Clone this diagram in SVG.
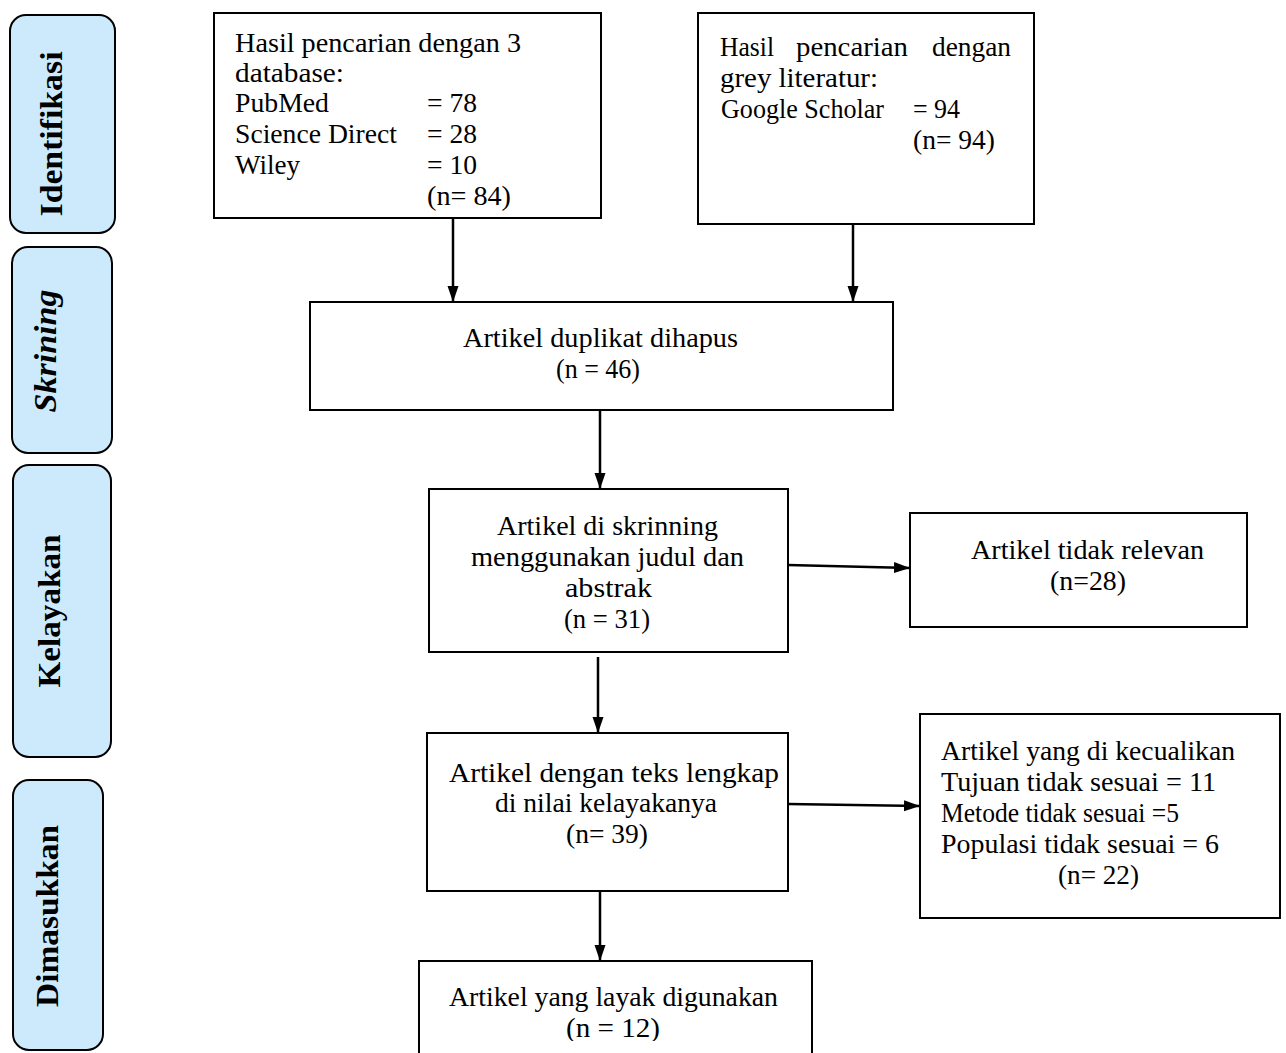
<svg xmlns="http://www.w3.org/2000/svg" width="1286" height="1053" viewBox="0 0 1286 1053">
<style>
.bg{fill:#ffffff}
.side{fill:#cdeafd;stroke:#000;stroke-width:2}
.box{fill:#fff;stroke:#000;stroke-width:2}
.t{font-family:"Liberation Serif","DejaVu Serif",serif;font-size:27px;fill:#000}
.s{font-family:"Liberation Serif","DejaVu Serif",serif;font-size:32px;font-weight:bold;fill:#000;text-anchor:middle}
.conn{stroke:#000;stroke-width:2.5;fill:none;marker-end:url(#ah)}
</style>
<defs>
<marker id="ah" viewBox="0 0 16 12" refX="16" refY="6" markerWidth="16" markerHeight="12" orient="auto" markerUnits="userSpaceOnUse">
<path d="M0,0.5 L16,6 L0,11.5 Z" fill="#000"/>
</marker>
<clipPath id="clipb"><rect x="0" y="0" width="1286" height="1041"/></clipPath>
</defs>
<rect class="bg" x="0" y="0" width="1286" height="1053"/>

<g id="stage-identifikasi">
<rect class="side" x="10" y="15" width="105" height="218" rx="16"/>
<text class="s" transform="translate(62,134) rotate(-90)" textLength="165" lengthAdjust="spacingAndGlyphs">Identifikasi</text>
</g>
<g id="stage-skrining">
<rect class="side" x="12" y="247" width="100" height="206" rx="16"/>
<text class="s" font-style="italic" transform="translate(56,351) rotate(-90)" textLength="123" lengthAdjust="spacingAndGlyphs">Skrining</text>
</g>
<g id="stage-kelayakan">
<rect class="side" x="13" y="465" width="98" height="292" rx="16"/>
<text class="s" transform="translate(60,611) rotate(-90)" textLength="153" lengthAdjust="spacingAndGlyphs">Kelayakan</text>
</g>
<g id="stage-dimasukkan">
<rect class="side" x="13" y="780" width="90" height="270" rx="16"/>
<text class="s" transform="translate(58,916) rotate(-90)" textLength="182" lengthAdjust="spacingAndGlyphs">Dimasukkan</text>
</g>

<g id="connectors">
<line class="conn" x1="453" y1="218" x2="453" y2="302"/>
<line class="conn" x1="853" y1="224" x2="853" y2="302"/>
<line class="conn" x1="600" y1="410" x2="600" y2="489"/>
<line class="conn" x1="788" y1="565" x2="910" y2="568"/>
<line class="conn" x1="598" y1="657" x2="598" y2="733"/>
<line class="conn" x1="788" y1="804" x2="920" y2="806"/>
<line class="conn" x1="600" y1="891" x2="600" y2="961"/>
</g>

<g id="box-database">
<rect class="box" x="214" y="13" width="387" height="205"/>
<text class="t" x="235" y="52" textLength="286" lengthAdjust="spacingAndGlyphs">Hasil pencarian dengan 3</text>
<text class="t" x="235" y="82" textLength="109" lengthAdjust="spacingAndGlyphs">database:</text>
<text class="t" x="235" y="112" textLength="94" lengthAdjust="spacingAndGlyphs">PubMed</text>
<text class="t" x="427" y="112" textLength="50" lengthAdjust="spacingAndGlyphs">= 78</text>
<text class="t" x="235" y="143" textLength="162" lengthAdjust="spacingAndGlyphs">Science Direct</text>
<text class="t" x="427" y="143" textLength="50" lengthAdjust="spacingAndGlyphs">= 28</text>
<text class="t" x="235" y="174" textLength="65" lengthAdjust="spacingAndGlyphs">Wiley</text>
<text class="t" x="427" y="174" textLength="50" lengthAdjust="spacingAndGlyphs">= 10</text>
<text class="t" x="427" y="205" textLength="84" lengthAdjust="spacingAndGlyphs">(n= 84)</text>
</g>

<g id="box-grey">
<rect class="box" x="698" y="13" width="336" height="211"/>
<text class="t" x="720" y="56" textLength="54" lengthAdjust="spacingAndGlyphs">Hasil</text>
<text class="t" x="796" y="56" textLength="112" lengthAdjust="spacingAndGlyphs">pencarian</text>
<text class="t" x="932" y="56" textLength="79" lengthAdjust="spacingAndGlyphs">dengan</text>
<text class="t" x="720" y="87" textLength="158" lengthAdjust="spacingAndGlyphs">grey literatur:</text>
<text class="t" x="721" y="118" textLength="163" lengthAdjust="spacingAndGlyphs">Google Scholar</text>
<text class="t" x="913" y="118" textLength="47" lengthAdjust="spacingAndGlyphs">= 94</text>
<text class="t" x="913" y="149" textLength="82" lengthAdjust="spacingAndGlyphs">(n= 94)</text>
</g>

<g id="box-duplikat">
<rect class="box" x="310" y="302" width="583" height="108"/>
<text class="t" x="463" y="347" textLength="275" lengthAdjust="spacingAndGlyphs">Artikel duplikat dihapus</text>
<text class="t" x="556" y="378" textLength="84" lengthAdjust="spacingAndGlyphs">(n = 46)</text>
</g>

<g id="box-skrinning">
<rect class="box" x="429" y="489" width="359" height="163"/>
<text class="t" x="497" y="535" textLength="221" lengthAdjust="spacingAndGlyphs">Artikel di skrinning</text>
<text class="t" x="471" y="566" textLength="273" lengthAdjust="spacingAndGlyphs">menggunakan judul dan</text>
<text class="t" x="565" y="597" textLength="87" lengthAdjust="spacingAndGlyphs">abstrak</text>
<text class="t" x="564" y="628" textLength="86" lengthAdjust="spacingAndGlyphs">(n = 31)</text>
</g>

<g id="box-tidak-relevan">
<rect class="box" x="910" y="513" width="337" height="114"/>
<text class="t" x="971" y="559" textLength="233" lengthAdjust="spacingAndGlyphs">Artikel tidak relevan</text>
<text class="t" x="1050" y="590" textLength="76" lengthAdjust="spacingAndGlyphs">(n=28)</text>
</g>

<g id="box-teks-lengkap">
<rect class="box" x="427" y="733" width="361" height="158"/>
<text class="t" x="449" y="782" textLength="330" lengthAdjust="spacingAndGlyphs">Artikel dengan teks lengkap</text>
<text class="t" x="495" y="812" textLength="222" lengthAdjust="spacingAndGlyphs">di nilai kelayakanya</text>
<text class="t" x="566" y="843" textLength="82" lengthAdjust="spacingAndGlyphs">(n= 39)</text>
</g>

<g id="box-dikecualikan">
<rect class="box" x="920" y="714" width="360" height="204"/>
<text class="t" x="941" y="760" textLength="294" lengthAdjust="spacingAndGlyphs">Artikel yang di kecualikan</text>
<text class="t" x="941" y="791" textLength="275" lengthAdjust="spacingAndGlyphs">Tujuan tidak sesuai = 11</text>
<text class="t" x="941" y="822" textLength="238" lengthAdjust="spacingAndGlyphs">Metode tidak sesuai =5</text>
<text class="t" x="941" y="853" textLength="278" lengthAdjust="spacingAndGlyphs">Populasi tidak sesuai = 6</text>
<text class="t" x="1058" y="884" textLength="81" lengthAdjust="spacingAndGlyphs">(n= 22)</text>
</g>

<g id="box-layak">
<rect class="box" x="419" y="961" width="393" height="110"/>
<g clip-path="url(#clipb)">
<text class="t" x="449" y="1006" textLength="329" lengthAdjust="spacingAndGlyphs">Artikel yang layak digunakan</text>
<text class="t" x="566" y="1037" textLength="94" lengthAdjust="spacingAndGlyphs">(n = 12)</text>
</g>
</g>
</svg>
